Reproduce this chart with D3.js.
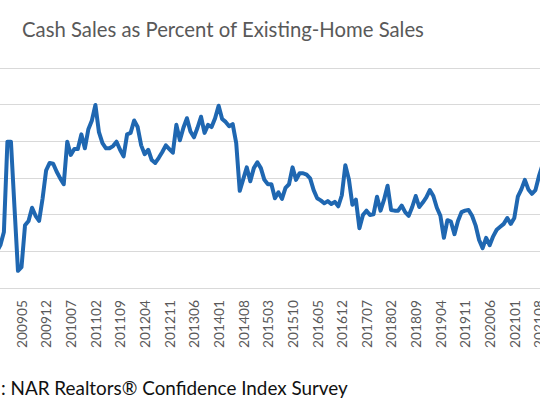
<!DOCTYPE html>
<html><head><meta charset="utf-8">
<script src="https://cdn.jsdelivr.net/npm/d3@7"></script>
<style>html,body{margin:0;padding:0;background:#fff;overflow:hidden}</style>
</head><body>
<svg id="chart" width="540" height="407"></svg>
<script>
// ---- data ----
const chartTitle = "Cash Sales as Percent of Existing-Home Sales";
const sourceLabel = ": NAR Realtors® Confidence Index Survey";
const firstMonth = "200810";
// cash sales share (%) per month, starting 200810
const cashShare = [
  14.9, 15.8, 17.6, 29.9, 29.9, 21.0, 12.3, 12.8, 18.5, 19.1, 20.9, 19.8,
  19.1, 22.2, 26.0, 27.0, 26.9, 25.8, 24.9, 24.1, 29.9, 28.1, 28.9, 28.9,
  30.9, 29.0, 31.6, 32.8, 34.9, 31.2, 29.7, 29.0, 29.0, 29.3, 29.9, 28.8,
  27.9, 30.9, 31.1, 32.8, 31.9, 29.4, 28.2, 28.8, 27.4, 27.0, 27.7, 28.5,
  29.4, 28.9, 28.4, 32.2, 30.1, 31.8, 33.1, 31.3, 30.5, 31.8, 33.3, 31.1,
  32.2, 31.9, 33.1, 34.8, 33.0, 32.6, 32.0, 32.3, 29.7, 23.2, 24.8, 26.4,
  24.5, 26.3, 27.1, 26.3, 24.7, 24.1, 24.1, 22.2, 23.0, 22.1, 23.6, 24.1,
  26.4, 24.7, 25.6, 25.6, 25.4, 24.9, 23.3, 22.2, 21.9, 21.5, 21.8, 21.4,
  21.7, 21.1, 22.6, 26.7, 24.8, 21.3, 22.0, 18.1, 19.9, 20.5, 19.9, 20.0,
  22.4, 20.5, 22.0, 23.9, 20.6, 20.5, 20.5, 21.2, 20.3, 19.8, 21.0, 22.5,
  21.0, 21.6, 22.3, 23.3, 22.5, 20.9, 19.8, 16.8, 19.2, 19.0, 17.3, 19.1,
  20.3, 20.5, 20.6, 19.8, 18.5, 16.5, 15.4, 16.8, 15.8, 17.0, 17.9, 18.3,
  18.7, 19.5, 18.7, 19.5, 22.4, 23.4, 24.7, 23.4, 22.8, 23.3, 25.2, 26.7
];
const xTickLabels = ["200905","200912","201007","201102","201109","201204",
  "201211","201306","201401","201408","201503","201510","201605","201612","201707",
  "201802","201809","201904","201911","202006","202101","202108"];
const yTicks = [10, 15, 20, 25, 30, 35, 40];

// month categories (calendar sequence from firstMonth, one per value)
const months = [];
{
  let y = +firstMonth.slice(0, 4), m = +firstMonth.slice(4);
  for (let i = 0; i < cashShare.length; i++) {
    months.push(String(y) + String(m).padStart(2, "0"));
    m++; if (m > 12) { m = 1; y++; }
  }
}

// ---- layout ----
const W = 540, H = 407;
const svg = d3.select("#chart");
const FONT = "Lato, 'Open Sans', sans-serif";
const step = 3.52;
const x = d3.scalePoint().domain(months)
  .range([21.5 - 7 * step, 21.5 + (months.length - 8) * step]);
const y = d3.scaleLinear().domain([10, 40]).range([287.7, 67.6]);

function fit(sel, target) {
  const w = sel.node().getComputedTextLength();
  const fs = parseFloat(sel.attr("font-size"));
  sel.attr("font-size", fs * target / w);
}

// gridlines (value axis labels lie outside the cropped view)
svg.append("g").selectAll("line").data(yTicks).join("line")
  .attr("x1", 0).attr("x2", W)
  .attr("y1", d => Math.round(y(d)) + 0.5).attr("y2", d => Math.round(y(d)) + 0.5)
  .attr("stroke", "#d9d9d9").attr("stroke-width", 1);

// x axis labels
const xAxis = d3.axisBottom(x).tickValues(xTickLabels).tickSize(0).tickPadding(0);
const gx = svg.append("g").attr("transform", "translate(0,300)").call(xAxis);
gx.select(".domain").remove();
gx.selectAll("text")
  .attr("font-family", FONT).attr("font-size", 14).attr("fill", "#595959")
  .attr("transform", "rotate(-90)").attr("text-anchor", "end")
  .attr("x", 0).attr("y", 0).attr("dy", "0.35em");
{
  const t = gx.select("text");
  const w = t.node().getComputedTextLength();
  gx.selectAll("text").attr("font-size", 14 * 48 / w);
}

// line
const line = d3.line().x((d, i) => x(months[i])).y(d => y(d));
svg.append("path").datum(cashShare)
  .attr("d", line).attr("fill", "none")
  .attr("stroke", "#1f67b1").attr("stroke-width", 4)
  .attr("stroke-linejoin", "round").attr("stroke-linecap", "round");

// title
const tt = svg.append("text").attr("x", 22).attr("y", 37)
  .attr("font-family", FONT).attr("font-size", 20).attr("fill", "#595959")
  .text(chartTitle);
fit(tt, 402);

// source
const st = svg.append("text").attr("x", 1).attr("y", 395)
  .attr("font-family", FONT).attr("font-size", 19).attr("fill", "#111")
  .text(sourceLabel);
fit(st, 347);
</script>
</body></html>
